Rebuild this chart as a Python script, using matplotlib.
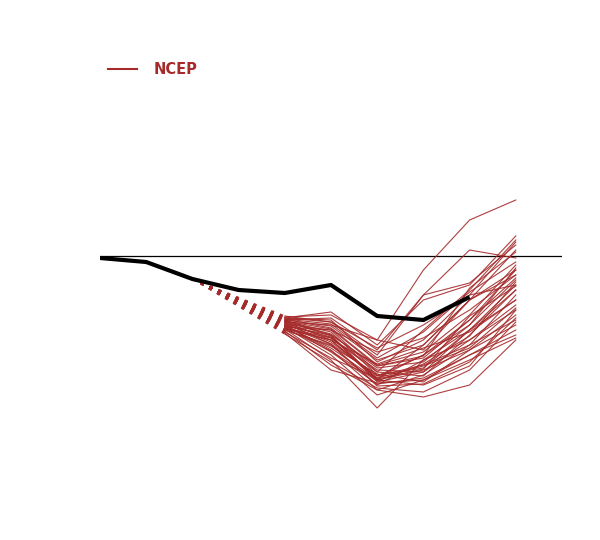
import numpy as np
import matplotlib.pyplot as plt

# Observed index (black) and NCEP ensemble members (red)
obs_x = [0, 1, 2, 3, 4, 5, 6, 7, 8]
obs = [-0.2, -0.6, -2.3, -3.4, -3.7, -2.9, -6.0, -6.4, -4.1]

fc_x = [4, 5, 6, 7, 8, 9]
members = [
    [-6.2, -5.6, -8.9, -4.4, -2.9, 2.0],
    [-6.4, -6.2, -9.4, -3.9, -2.7, 1.1],
    [-6.6, -6.9, -8.4, -1.4, 3.6, 5.6],
    [-6.0, -6.6, -9.9, -3.9, 0.6, -0.2],
    [-6.8, -7.4, -11.6, -7.4, -3.4, 1.6],
    [-7.0, -7.9, -12.4, -8.9, -4.4, -1.9],
    [-7.2, -8.4, -12.2, -9.9, -6.4, -1.4],
    [-7.4, -8.9, -12.9, -10.4, -7.4, -3.4],
    [-6.2, -6.4, -10.6, -8.4, -3.9, -2.9],
    [-6.5, -7.6, -11.9, -11.2, -7.4, -4.4],
    [-6.7, -8.2, -11.4, -11.6, -8.4, -5.4],
    [-6.9, -9.4, -13.4, -11.9, -8.9, -6.4],
    [-7.1, -9.9, -13.9, -12.4, -9.9, -7.4],
    [-7.3, -10.4, -15.2, -10.4, -8.4, -4.9],
    [-7.5, -10.9, -13.4, -14.1, -12.9, -8.4],
    [-7.7, -11.4, -12.7, -12.4, -10.4, -8.2],
    [-6.3, -7.2, -10.9, -9.6, -5.9, -0.9],
    [-6.4, -7.0, -10.4, -8.9, -4.4, 0.6],
    [-6.6, -7.8, -11.2, -10.6, -6.9, -2.4],
    [-6.8, -8.6, -12.0, -10.9, -8.9, -3.9],
    [-7.0, -9.2, -12.4, -11.4, -9.4, -5.9],
    [-7.2, -8.2, -11.6, -12.0, -7.9, -3.4],
    [-7.4, -9.0, -11.8, -12.6, -9.4, -6.9],
    [-6.1, -5.9, -8.4, -9.4, -4.4, -1.4],
    [-6.3, -6.8, -10.2, -7.6, -3.6, -0.6],
    [-6.5, -8.0, -12.6, -11.6, -7.4, -2.9],
    [-6.7, -8.8, -13.0, -12.8, -10.6, -6.2],
    [-6.9, -9.6, -12.8, -12.2, -9.9, -7.9],
    [-7.1, -7.4, -9.6, -8.2, -5.4, -1.9],
    [-7.3, -8.4, -10.8, -9.2, -7.6, -4.4],
    [-7.6, -10.2, -12.2, -11.0, -9.2, -5.2],
    [-6.2, -6.6, -9.2, -6.9, -3.9, 1.4],
    [-6.4, -7.9, -11.0, -10.2, -6.4, -2.2],
    [-7.8, -10.6, -13.2, -13.6, -11.4, -6.6],
    [-6.6, -8.4, -12.4, -12.9, -11.0, -5.4],
    [-7.0, -8.8, -12.0, -9.9, -6.9, -1.2],
    [-6.5, -7.3, -11.0, -10.0, -3.2, 0.4],
    [-6.9, -8.1, -12.3, -11.3, -6.0, -3.0],
    [-7.2, -9.5, -12.5, -10.8, -8.0, -2.6],
]

red = '#a52a2a'

fig = plt.figure(figsize=(6, 5.4), dpi=100)
ax = fig.add_axes([100 / 600, 60 / 540, 462 / 600, 380 / 540])

# zero line
ax.axhline(0, color='black', lw=0.9)

# dashed links from the last used observation to each member start
for m in members:
    ax.plot([obs_x[2], fc_x[0]], [obs[2], m[0]], color=red, lw=1.0,
            linestyle=(0, (2.2, 4.6)), zorder=2)

for m in members:
    ax.plot(fc_x, m, color=red, lw=0.8, alpha=0.9, zorder=2)

ax.plot(obs_x, obs, color='black', lw=3.0, solid_capstyle='butt', zorder=3)

ax.set_xlim(0, 10)
ax.set_ylim(-22.4, 15.6)
ax.axis('off')

leg = fig.legend([plt.Line2D([], [], color=red, lw=1.5)], ['NCEP'],
                 loc='center left', bbox_to_anchor=(108 / 600, 1 - 70 / 540),
                 frameon=False, fontsize=10.5, handlelength=2.0,
                 handletextpad=1.1, borderaxespad=0, borderpad=0)
for t in leg.get_texts():
    t.set_color(red)
    t.set_fontweight('bold')

fig.savefig('out.png', dpi=100)
